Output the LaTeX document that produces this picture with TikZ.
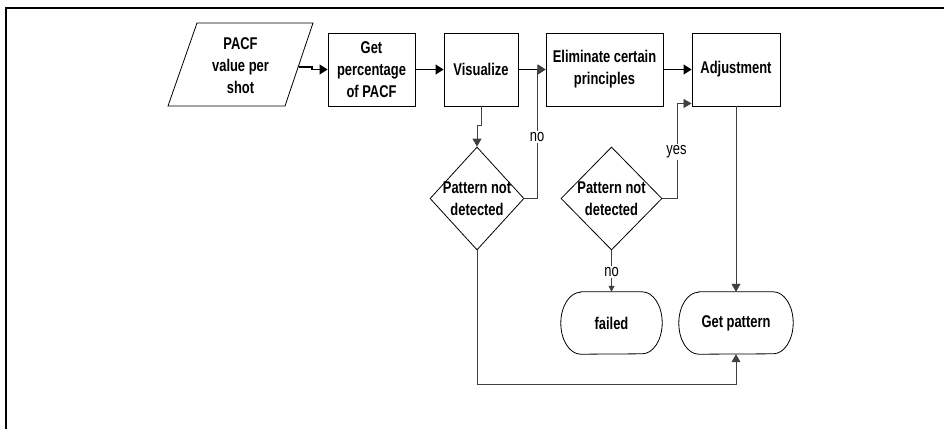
\documentclass[tikz,border=0pt]{standalone}
\usepackage{fontspec}
\setmainfont{Liberation Sans}[FakeStretch=0.76]
\usetikzlibrary{arrows.meta,shapes.geometric}

\begin{document}
\begin{tikzpicture}[x=1pt,y=-1pt,
  every node/.style={font=\fontsize{17}{22}\selectfont\bfseries, align=center, inner sep=0pt},
  box/.style={draw=black, line width=0.9pt, rectangle, minimum height=73pt},
  decision/.style={draw=black, line width=0.8pt, diamond, minimum height=103pt},
  term/.style={rectangle, minimum height=62pt},
  conn/.style={draw=black!75, line width=0.8pt},
  arr/.style={conn, -{Triangle[length=8pt,width=9pt]}},
  smallarr/.style={conn, -{Triangle[length=6pt,width=6pt]}},
  flow/.style={draw=black, line width=1.1pt, -{Triangle[length=8pt,width=10pt]}},
  lbl/.style={font=\fontsize{17}{18}\selectfont, fill=white, inner sep=1.5pt}
]
\useasboundingbox (0,0) rectangle (944,429);

% page frame (top and left edges)
\draw[line width=2pt] (6,429) -- (6,8) -- (944,8);

% input parallelogram
\node (pacf) at (240.5,65.5) {PACF\\value per\\shot};
\draw[line width=0.8pt] (197,23) -- (313,23) -- (285,106) -- (168,106) -- cycle;
\coordinate (pacfout) at (299,67);

% process boxes
\node[box, minimum width=87pt]  (get)  at (371.5,69.5) {Get\\percentage\\of PACF};
\node[box, minimum width=74pt]  (vis)  at (481,69.5)   {Visualize};
\node[box, minimum width=117pt] (elim) at (604.5,69.5) {Eliminate certain\\principles};
\node[box, minimum width=88pt]  (adj)  at (736,69.5)   {Adjustment};

% decisions
\node[decision, minimum width=94pt]  (d1) at (477,198.5)
  [label={center:Pattern not\\detected}] {};
\node[decision, minimum width=101pt] (d2) at (611.5,198.5)
  [label={center:Pattern not\\detected}] {};

% terminals
\node[term, minimum width=101pt] (fail) at (611.5,323) {failed};
\node[term, minimum width=114pt] (gp)   at (736,323)   {Get pattern};
\foreach \n in {fail,gp}{
  \draw[line width=0.8pt] ([xshift=20pt]\n.north west) -- ([xshift=-20pt]\n.north east)
    arc[start angle=90, end angle=-90, x radius=20pt, y radius=31pt]
    -- ([xshift=20pt]\n.south west)
    arc[start angle=270, end angle=90, x radius=20pt, y radius=31pt] -- cycle;
}

% main flow
\draw[flow] (pacfout) -- ++(13,0) |- (get.west);
\draw[flow] (get) -- (vis);
\draw[flow] (vis) -- (elim);
\draw[flow] (elim) -- (adj);

% branches
\draw[arr] (vis.south) -- ++(0,19) -| (d1.north);
\draw[arr] (d1.east) -- ++(13,0) |- (elim.west);
\node[lbl] (no1) at (537,137) {no};

\draw[arr] (d2.east) -- ++(15,0) |- ([yshift=3pt]adj.south west);
\node[lbl] (yes2) at (676.5,152) {yes};

\draw[smallarr] (d2.south) -- (fail.north);
\node[lbl] (no2) at (611.5,272) {no};

\draw[arr] (adj.south) -- (gp.north);
\draw[arr] (d1.south) -- ++(0,134) -| (gp.south);
\end{tikzpicture}
\end{document}
